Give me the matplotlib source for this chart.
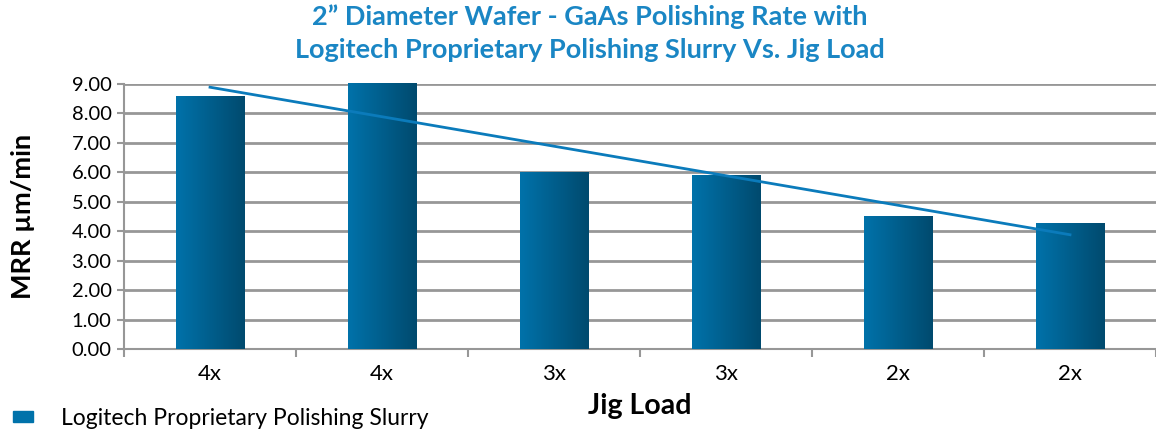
import numpy as np
import matplotlib
matplotlib.use("Agg")
import matplotlib.pyplot as plt
from matplotlib.patches import Patch
from matplotlib.colors import LinearSegmentedColormap

# data
categories = ["4x", "4x", "3x", "3x", "2x", "2x"]
mrr = [8.58, 9.02, 6.00, 5.90, 4.53, 4.28]
series_name = "Logitech Proprietary Polishing Slurry"
yticks = [0, 1, 2, 3, 4, 5, 6, 7, 8, 9]

title_color = "#1a86c4"
grid_color = "#979797"
bar_cmap = LinearSegmentedColormap.from_list("bar", ["#0072aa", "#004a6e"])

plt.rcParams["font.family"] = ["Lato", "DejaVu Sans"]

fig = plt.figure(figsize=(11.56, 4.30), dpi=100)
ax = fig.add_axes([0.1073, 0.1884, 0.8927, 0.6163])

x = np.arange(len(categories))
bars = ax.bar(x, mrr, width=0.4, color="#005d8c", zorder=3)

# horizontal gradient inside each bar
grad = np.linspace(0, 1, 256).reshape(1, -1)
for b in bars:
    x0, y0 = b.get_x(), b.get_y()
    w, h = b.get_width(), b.get_height()
    im = ax.imshow(grad, cmap=bar_cmap, aspect="auto", zorder=3,
                   extent=[x0, x0 + w, y0, y0 + h])
    im.set_clip_path(b)

# linear trendline over the series
coef = np.polyfit(x + 1, mrr, 1)
ax.plot(x, np.polyval(coef, x + 1), color="#0b7bbb", lw=2, zorder=4)

ax.set_ylim(0, 9)
ax.set_xlim(-0.5, 5.465)
ax.set_yticks(yticks)
ax.set_yticklabels([f"{v:.2f}" for v in yticks], fontsize=14.5)
ax.set_xticks(x)
ax.set_xticklabels(categories, fontsize=16)
ax.tick_params(axis="x", which="major", length=0, pad=11)
ax.set_xticks(np.arange(-0.5, 6, 1), minor=True)
ax.tick_params(axis="x", which="minor", length=6, width=1.5, color=grid_color)
ax.tick_params(axis="y", length=5, width=1.5, color=grid_color, pad=4)

ax.grid(axis="y", color=grid_color, lw=2, zorder=0)
for s in ["top", "right"]:
    ax.spines[s].set_visible(False)
for s in ["left", "bottom"]:
    ax.spines[s].set_color(grid_color)
    ax.spines[s].set_linewidth(1.5)

ax.set_ylabel("MRR µm/min", fontsize=19.5, fontweight="bold", labelpad=26)
ax.set_xlabel("Jig Load", fontsize=20.5, fontweight="bold", labelpad=6)

fig.suptitle("2\u201d Diameter Wafer - GaAs Polishing Rate with\n"
             "Logitech Proprietary Polishing Slurry Vs. Jig Load",
             x=0.51, y=0.99, fontsize=19.5, fontweight="bold",
             color=title_color, linespacing=1.45)

fig.legend(handles=[Patch(color="#0072aa", label=series_name)],
           loc="lower left", bbox_to_anchor=(-0.007, -0.045), frameon=False,
           fontsize=16.5, handlelength=0.9, handleheight=0.3, handletextpad=1.2)

fig.savefig("out.png", dpi=100)
